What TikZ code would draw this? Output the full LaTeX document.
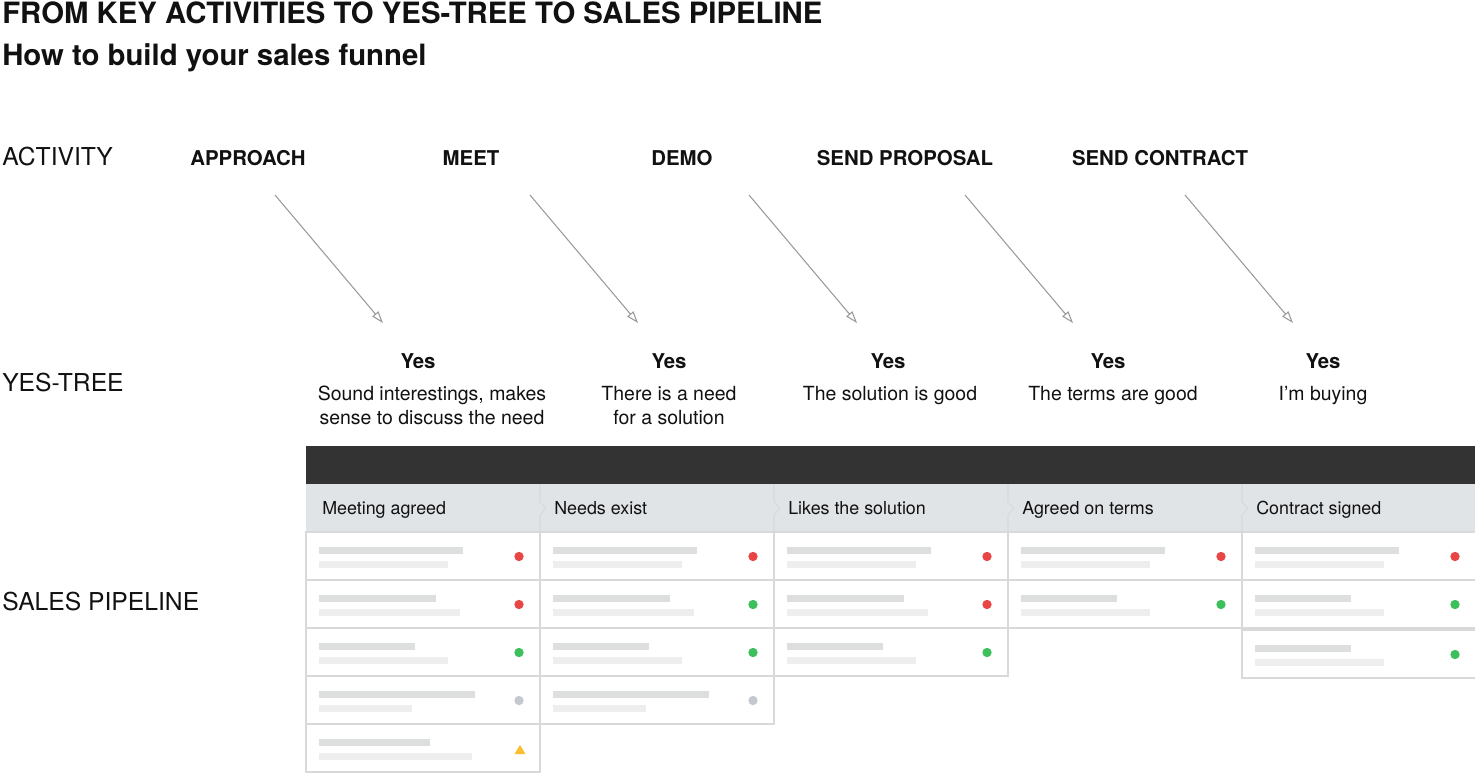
\documentclass[tikz,border=0pt]{standalone}
\usepackage{fontspec}
\setmainfont{TeX Gyre Heros}
\usetikzlibrary{arrows.meta}
\definecolor{ink}{HTML}{111111}
\definecolor{barDark}{HTML}{333333}
\definecolor{headFill}{HTML}{E1E4E7}
\definecolor{lineGray}{HTML}{D9D9D9}
\definecolor{arrowGray}{HTML}{9A9A9A}
\definecolor{skelDark}{HTML}{DDDEDE}
\definecolor{skelLight}{HTML}{EEEEEE}
\definecolor{dotRed}{HTML}{E84545}
\definecolor{dotGreen}{HTML}{3DC05B}
\definecolor{dotGray}{HTML}{C5C9CF}
\definecolor{dotYellow}{HTML}{FBBF2E}
\tikzset{
  headline/.style={anchor=base west, inner sep=0pt, text=ink, font=\fontsize{22}{26}\selectfont\bfseries},
  rowlabel/.style={anchor=base west, inner sep=0pt, text=ink, font=\fontsize{18.5}{22}\selectfont},
  activity/.style={anchor=base, inner sep=0pt, text=ink, font=\fontsize{15.3}{18}\selectfont\bfseries},
  yesnode/.style={anchor=base, inner sep=0pt, text=ink, font=\fontsize{15.3}{18}\selectfont\bfseries},
  answer/.style={anchor=base, inner sep=0pt, text=ink, align=center, font=\fontsize{14.6}{18}\selectfont},
  stage/.style={anchor=base west, inner sep=0pt, text=ink, font=\fontsize{13.4}{16}\selectfont},
  yesarrow/.style={draw=arrowGray, line width=0.8pt, -{Triangle[open, length=9pt, width=6pt]}},
  card/.style={draw=lineGray, fill=white, line width=0.8pt},
  stagesep/.style={draw=lineGray, line width=0.8pt},
}

\begin{document}
\begin{tikzpicture}[x=0.75pt, y=-0.75pt]
\useasboundingbox (0,0) rectangle (1475,774);

\node[headline] (title) at (2,24) {FROM KEY ACTIVITIES TO YES-TREE TO SALES PIPELINE};
\node[headline] (subtitle) at (2,65) {How to build your sales funnel};

\node[rowlabel] (activityrow) at (2,166) {ACTIVITY};
\node[rowlabel] (yesrow) at (2,391) {YES-TREE};
\node[rowlabel] (pipelinerow) at (2,610) {SALES PIPELINE};

\node[activity] (approach) at (248,166) {APPROACH};
\node[activity] (meet) at (471,166) {MEET};
\node[activity] (demo) at (682,166) {DEMO};
\node[activity] (proposal) at (905,166) {SEND PROPOSAL};
\node[activity] (contract) at (1160,166) {SEND CONTRACT};

\node[yesnode] (yes1) at (418,368) {Yes};
\node[yesnode] (yes2) at (669,368) {Yes};
\node[yesnode] (yes3) at (888,368) {Yes};
\node[yesnode] (yes4) at (1108,368) {Yes};
\node[yesnode] (yes5) at (1323,368) {Yes};

\node[answer] (why1) at (432,424) {Sound interestings, makes\\sense to discuss the need};
\node[answer] (why2) at (669,424) {There is a need\\for a solution};
\node[answer] (why3) at (890,400) {The solution is good};
\node[answer] (why4) at (1113,400) {The terms are good};
\node[answer] (why5) at (1323,400) {I'm buying};

\coordinate (from1) at (275,195);
\coordinate (to1) at (383,323);
\coordinate (from2) at (530,195);
\coordinate (to2) at (638,323);
\coordinate (from3) at (749,195);
\coordinate (to3) at (857,323);
\coordinate (from4) at (965,195);
\coordinate (to4) at (1073,323);
\coordinate (from5) at (1185,195);
\coordinate (to5) at (1293,323);
\foreach \i in {1,...,5}
  \draw[yesarrow] (from\i) -- (to\i);

% pipeline board
\fill[barDark] (306,446) rectangle (1475,484);
\fill[headFill] (306,484) rectangle (1475,532);
\draw[stagesep] (306,532) -- (1475,532);
\foreach \x in {540,774,1008,1242}
  \draw[stagesep] (\x,484) -- (\x,502) -- (\x+6,508.5) -- (\x,515) -- (\x,532);

\node[stage] (stage1) at (322,514) {Meeting agreed};
\node[stage] (stage2) at (554,514) {Needs exist};
\node[stage] (stage3) at (788,514) {Likes the solution};
\node[stage] (stage4) at (1022,514) {Agreed on terms};
\node[stage] (stage5) at (1256,514) {Contract signed};

% deal cards: left x / top y / bar widths / status
\foreach \cx/\cy/\wa/\wb/\st in {
  306/532/144/129/dotRed, 306/580/117/141/dotRed, 306/628/96/129/dotGreen, 306/676/156/93/dotGray, 306/724/111/153/white,
  540/532/144/129/dotRed, 540/580/117/141/dotGreen, 540/628/96/129/dotGreen, 540/676/156/93/dotGray,
  774/532/144/129/dotRed, 774/580/117/141/dotRed, 774/628/96/129/dotGreen,
  1008/532/144/129/dotRed, 1008/580/96/129/dotGreen,
  1242/532/144/129/dotRed, 1242/580/96/129/dotGreen, 1242/630/96/129/dotGreen}
{
  \draw[card] (\cx,\cy) rectangle ({\cx+234},{\cy+48});
  \fill[skelDark] ({\cx+13},{\cy+14.5}) rectangle ({\cx+13+\wa},{\cy+21.5});
  \fill[skelLight] ({\cx+13},{\cy+28.5}) rectangle ({\cx+13+\wb},{\cy+35.5});
  \fill[\st] ({\cx+213},{\cy+24.5}) circle (3.5pt);
}
\fill[dotYellow] (520,745) -- (525.5,754) -- (514.5,754) -- cycle;
\end{tikzpicture}
\end{document}
